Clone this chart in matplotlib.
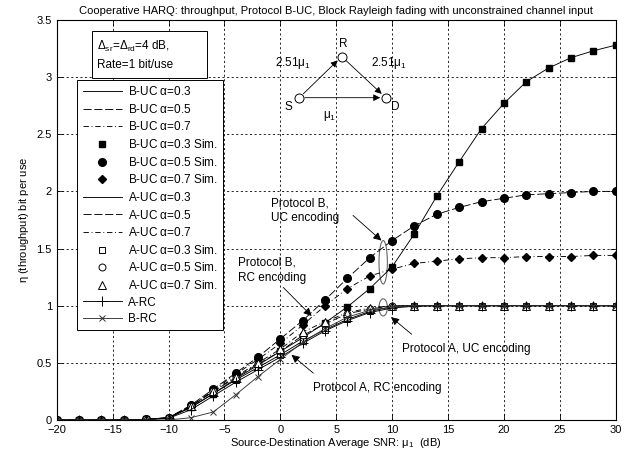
import numpy as np
import matplotlib
matplotlib.use("Agg")
import matplotlib.pyplot as plt
from matplotlib.patches import Ellipse, Rectangle

plt.rcParams['font.family'] = ['Liberation Sans', 'DejaVu Sans']
plt.rcParams['mathtext.fontset'] = 'custom'
plt.rcParams['mathtext.rm'] = 'Liberation Sans'
plt.rcParams['mathtext.it'] = 'Liberation Sans'
plt.rcParams['mathtext.default'] = 'regular'

# SNR grid (dB)
snr = list(range(-20, 31, 2))

# Protocol B, unconstrained coding
b_uc_03 = [0, 0, 0, 0, 0.005, 0.02, 0.11, 0.23, 0.36, 0.48, 0.60, 0.72, 0.85,
           0.99, 1.15, 1.34, 1.63, 1.96, 2.26, 2.55, 2.77, 2.96, 3.08, 3.17, 3.23, 3.28]
b_uc_05 = [0, 0, 0, 0, 0.005, 0.02, 0.13, 0.27, 0.41, 0.55, 0.71, 0.87, 1.05,
           1.24, 1.42, 1.57, 1.70, 1.80, 1.86, 1.91, 1.94, 1.97, 1.98, 1.99, 2.00, 2.00]
b_uc_07 = [0, 0, 0, 0, 0.005, 0.02, 0.12, 0.26, 0.40, 0.53, 0.67, 0.83, 1.00,
           1.15, 1.26, 1.32, 1.37, 1.39, 1.41, 1.42, 1.42, 1.43, 1.43, 1.43, 1.44, 1.44]

# Protocol A, unconstrained coding
a_uc_03 = [0, 0, 0, 0, 0.005, 0.02, 0.11, 0.23, 0.35, 0.46, 0.57, 0.69, 0.79,
           0.88, 0.95, 0.99, 1.0, 1.0, 1.0, 1.0, 1.0, 1.0, 1.0, 1.0, 1.0, 1.0]
a_uc_05 = [0, 0, 0, 0, 0.005, 0.02, 0.12, 0.25, 0.37, 0.49, 0.60, 0.74, 0.84,
           0.93, 0.97, 1.0, 1.0, 1.0, 1.0, 1.0, 1.0, 1.0, 1.0, 1.0, 1.0, 1.0]
a_uc_07 = [0, 0, 0, 0, 0.005, 0.02, 0.12, 0.25, 0.38, 0.50, 0.62, 0.77, 0.86,
           0.94, 0.98, 1.0, 1.0, 1.0, 1.0, 1.0, 1.0, 1.0, 1.0, 1.0, 1.0, 1.0]

# repetition coding
a_rc = [0, 0, 0, 0, 0.003, 0.015, 0.09, 0.21, 0.33, 0.44, 0.55, 0.67, 0.78,
        0.87, 0.94, 0.98, 0.995, 1.0, 1.0, 1.0, 1.0, 1.0, 1.0, 1.0, 1.0, 1.0]
b_rc = [0, 0, 0, 0, 0, 0.0, 0.02, 0.07, 0.22, 0.38, 0.53, 0.68, 0.80,
        0.90, 0.96, 0.99, 1.0, 1.0, 1.0, 1.0, 1.0, 1.0, 1.0, 1.0, 1.0, 1.0]

xticks = list(range(-20, 31, 5))
yticks = [0, 0.5, 1, 1.5, 2, 2.5, 3, 3.5]
ytick_labels = ['0', '0.5', '1', '1.5', '2', '2.5', '3', '3.5']

fig = plt.figure(figsize=(6.43, 4.59), dpi=100)
ax = fig.add_axes([0.0882, 0.085, 0.8694, 0.8715])

lw = 0.65
ms = 5
# analytical lines
ax.plot(snr, b_uc_03, '-', color='k', lw=lw, label=r'B-UC $\alpha$=0.3')
ax.plot(snr, b_uc_05, '--', color='k', lw=lw, dashes=(9, 3), label=r'B-UC $\alpha$=0.5')
ax.plot(snr, b_uc_07, '-.', color='k', lw=lw, dashes=(6, 3, 1, 3), label=r'B-UC $\alpha$=0.7')
# simulation
ax.plot(snr, b_uc_03, 's', color='k', ms=ms - 0.5, ls='none', label=r'B-UC $\alpha$=0.3 Sim.')
ax.plot(snr, b_uc_05, 'o', color='k', ms=ms + 0.5, ls='none', label=r'B-UC $\alpha$=0.5 Sim.')
ax.plot(snr, b_uc_07, 'D', color='k', ms=ms - 0.5, ls='none', label=r'B-UC $\alpha$=0.7 Sim.')

ax.plot(snr, a_uc_03, '-', color='k', lw=lw, label=r'A-UC $\alpha$=0.3')
ax.plot(snr, a_uc_05, '--', color='k', lw=lw, dashes=(9, 3), label=r'A-UC $\alpha$=0.5')
ax.plot(snr, a_uc_07, '-.', color='k', lw=lw, dashes=(6, 3, 1, 3), label=r'A-UC $\alpha$=0.7')
ax.plot(snr, a_uc_03, 's', mfc='white', mec='k', mew=0.7, ms=ms - 0.5, ls='none', label=r'A-UC $\alpha$=0.3 Sim.')
ax.plot(snr, a_uc_05, 'o', mfc='white', mec='k', mew=0.7, ms=ms, ls='none', label=r'A-UC $\alpha$=0.5 Sim.')
ax.plot(snr, a_uc_07, '^', mfc='white', mec='k', mew=0.7, ms=ms + 0.5, ls='none', label=r'A-UC $\alpha$=0.7 Sim.')

ax.plot(snr, a_rc, '-+', color='k', lw=lw, ms=7, mew=0.7, label='A-RC')
ax.plot(snr, b_rc, '-x', color='#333333', lw=lw, ms=4, mew=0.7, label='B-RC')

ax.set_xlim(-20, 30)
ax.set_ylim(0, 3.5)
ax.set_xticks(xticks)
ax.set_yticks(yticks)
ax.set_yticklabels(ytick_labels)
ax.tick_params(direction='in', labelsize=8, length=4, width=0.6, top=True, right=True)
ax.grid(True, color='k', linestyle=(0, (2.5, 3)), lw=0.6)
for s in ax.spines.values():
    s.set_linewidth(0.8)

ax.set_title('Cooperative HARQ: throughput, Protocol B-UC, Block Rayleigh fading with unconstrained channel input',
             fontsize=8, pad=4)
ax.set_xlabel(r'Source-Destination Average SNR: $\mu_1$  (dB)', fontsize=8, labelpad=1)
ax.set_ylabel(r'$\eta$ (throughput) bit per use', fontsize=8, labelpad=4)

leg = ax.legend(loc='upper left', bbox_to_anchor=(0.037, 0.85), fontsize=8.5, handlelength=3.3,
                labelspacing=0.39, borderpad=0.45, handletextpad=0.5, frameon=True, fancybox=False,
                framealpha=1, edgecolor='k', borderaxespad=0)
leg.get_frame().set_linewidth(0.7)

# parameter box
ax.add_patch(Rectangle((0.0626, 0.854), 0.2068, 0.1185, transform=ax.transAxes,
                       fc='white', ec='k', lw=0.7, zorder=6))
ax.text(0.0716, 0.933, r'$\Delta_{sr}$=$\Delta_{rd}$=4 dB,', fontsize=8.5, va='center', ha='left',
        transform=ax.transAxes, zorder=7)
ax.text(0.0716, 0.8875, 'Rate=1 bit/use', fontsize=8.5, va='center', ha='left',
        transform=ax.transAxes, zorder=7)

# relay diagram
nodes_x = [1.7, 5.49, 9.43]
nodes_y = [2.82, 3.18, 2.82]
arrow_kw = dict(arrowstyle='-|>', color='k', lw=0.6, mutation_scale=10, shrinkA=4, shrinkB=4)
ax.annotate('', xy=(nodes_x[1], nodes_y[1]), xytext=(nodes_x[0], nodes_y[0]), arrowprops=arrow_kw)
ax.annotate('', xy=(nodes_x[2], nodes_y[2]), xytext=(nodes_x[1], nodes_y[1]), arrowprops=arrow_kw)
ax.annotate('', xy=(nodes_x[2], nodes_y[2]), xytext=(nodes_x[0], nodes_y[0]), arrowprops=arrow_kw)
ax.plot(nodes_x, nodes_y, 'o', ls='none', mfc='white', mec='k', mew=0.7, ms=6.5, zorder=5)
ax.text(0.72, 2.74, 'S', fontsize=8.5, ha='center', va='center')
ax.text(5.64, 3.29, 'R', fontsize=8.5, ha='center', va='center')
ax.text(10.26, 2.74, 'D', fontsize=8.5, ha='center', va='center')
ax.text(1.14, 3.12, r'2.51$\mu_1$', fontsize=8.5, ha='center', va='center')
ax.text(9.72, 3.12, r'2.51$\mu_1$', fontsize=8.5, ha='center', va='center')
ax.text(4.45, 2.66, r'$\mu_1$', fontsize=8.5, ha='center', va='center')

# annotations
ann_kw = dict(arrowstyle='-|>', color='k', lw=0.6, mutation_scale=12, shrinkA=0, shrinkB=0)
ax.text(-0.8, 1.83, 'Protocol B,\nUC encoding', fontsize=8.5, ha='left', va='center', linespacing=1.3)
ax.annotate('', xy=(9.04, 1.57), xytext=(6.5, 1.79), arrowprops=ann_kw)
ax.text(-3.8, 1.31, 'Protocol B,\nRC encoding', fontsize=8.5, ha='left', va='center', linespacing=1.3)
ax.annotate('', xy=(2.8, 0.91), xytext=(0.26, 1.16), arrowprops=ann_kw)
ax.text(10.85, 0.62, 'Protocol A, UC encoding', fontsize=8.5, ha='left', va='center')
ax.annotate('', xy=(9.9, 0.9), xytext=(11.75, 0.75), arrowprops=ann_kw)
ax.text(2.95, 0.28, 'Protocol A, RC encoding', fontsize=8.5, ha='left', va='center')
ax.annotate('', xy=(1.0, 0.57), xytext=(2.95, 0.41), arrowprops=ann_kw)

ax.add_patch(Ellipse((9.2, 1.38), 0.75, 0.38, fill=False, ec='#666666', lw=0.8))
ax.add_patch(Ellipse((9.2, 0.985), 0.75, 0.15, fill=False, ec='#666666', lw=0.8))

fig.savefig('out.png', dpi=100)
